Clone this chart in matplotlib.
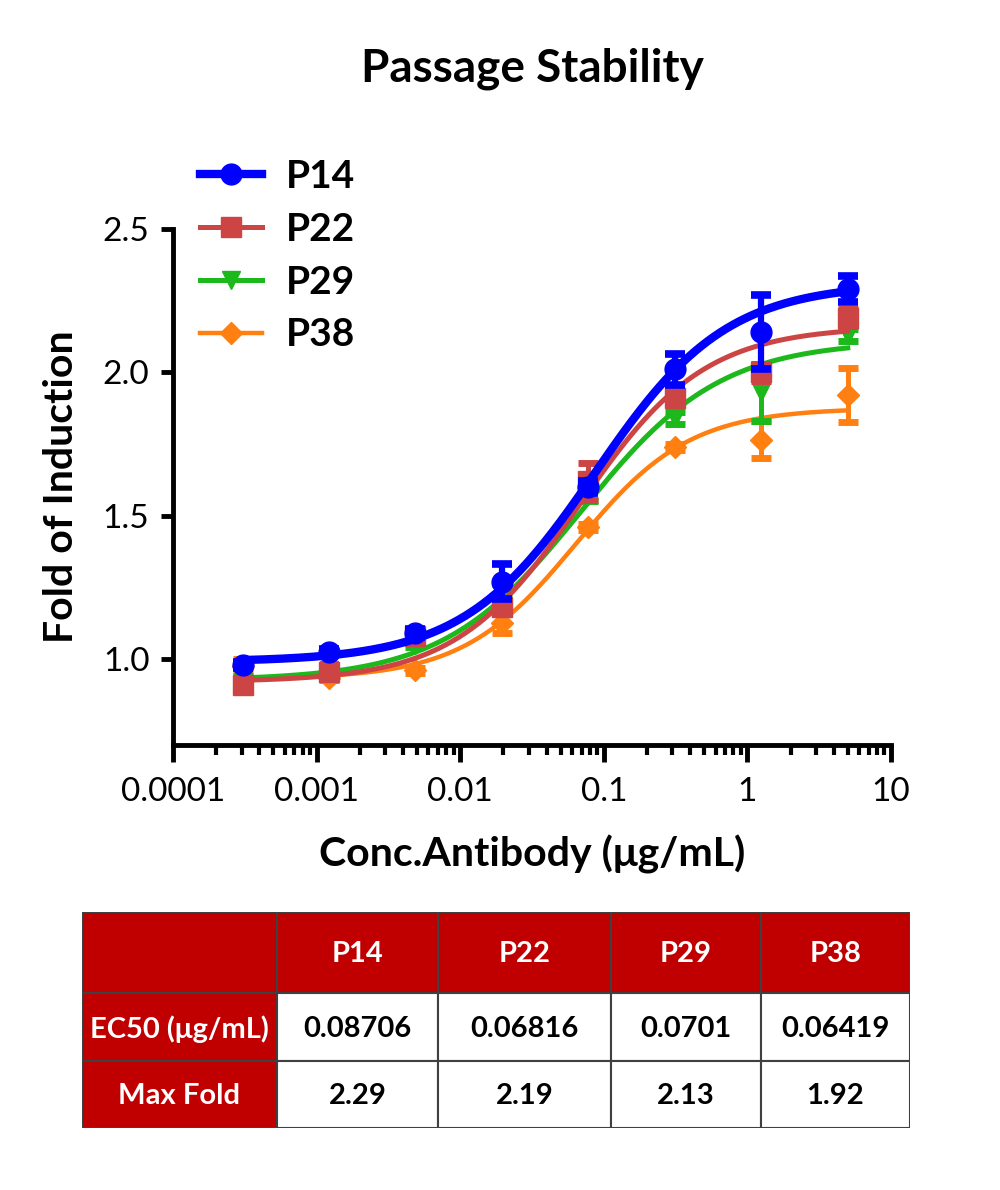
import numpy as np
import matplotlib
matplotlib.use('Agg')
import matplotlib.pyplot as plt
from matplotlib.lines import Line2D
from matplotlib.patches import Rectangle

plt.rcParams['font.family'] = ['Lato', 'DejaVu Sans']

# antibody concentration (ug/mL), 4-fold dilution
conc = [0.000305, 0.00122, 0.00488, 0.0195, 0.078125, 0.3125, 1.25, 5.0]

labels = ['P14', 'P22', 'P29', 'P38']

p14_mean = [0.98, 1.025, 1.09, 1.27, 1.60, 2.01, 2.14, 2.29]
p14_err = [0.01, 0.01, 0.015, 0.06, 0.02, 0.055, 0.13, 0.045]
p22_mean = [0.91, 0.955, 1.08, 1.18, 1.62, 1.91, 2.00, 2.19]
p22_err = [0.01, 0.01, 0.01, 0.02, 0.065, 0.02, 0.03, 0.03]
p29_mean = [0.93, 0.96, 1.05, 1.24, 1.57, 1.84, 1.93, 2.13]
p29_err = [0.01, 0.01, 0.01, 0.02, 0.02, 0.02, 0.10, 0.02]
p38_mean = [0.975, 0.935, 0.96, 1.125, 1.46, 1.74, 1.765, 1.92]
p38_err = [0.025, 0.01, 0.01, 0.035, 0.01, 0.01, 0.065, 0.095]

# 4PL fit parameters
fit_bottom = [0.99, 0.92, 0.925, 0.93]
fit_top = [2.31, 2.16, 2.11, 1.875]
fit_ec50 = [0.08706, 0.06816, 0.0701, 0.06419]
fit_hill = [0.95, 1.0, 0.9, 1.1]

# table
tab_cols = ['', 'P14', 'P22', 'P29', 'P38']
tab_rows = ['EC50 (μg/mL)', 'Max Fold']
ec50_text = ['0.08706', '0.06816', '0.0701', '0.06419']
maxfold_text = ['2.29', '2.19', '2.13', '1.92']

means = [p14_mean, p22_mean, p29_mean, p38_mean]
errs = [p14_err, p22_err, p29_err, p38_err]
colors = ['#0000FF', '#CC4444', '#1CB81C', '#FF8010']
markers = ['o', 's', 'v', 'D']
msizes = [15, 14, 13, 11]
lws = [6, 3.6, 3.6, 3.2]

fig = plt.figure(figsize=(10, 11.9), dpi=100)
ax = fig.add_axes([0.173, 0.374, 0.718, 0.4336])

xfit = np.logspace(np.log10(conc[0]), np.log10(conc[-1]), 300)
# draw orange first, blue last (blue on top)
for i in [3, 2, 1, 0]:
    yfit = fit_bottom[i] + (fit_top[i] - fit_bottom[i]) / (1 + (fit_ec50[i] / xfit) ** fit_hill[i])
    ax.plot(xfit, yfit, color=colors[i], lw=lws[i], zorder=5 - i)
    ax.errorbar(conc, means[i], yerr=errs[i], fmt=markers[i], color=colors[i],
                ms=msizes[i], elinewidth=4.5 if i == 0 else 3.6, capsize=7,
                capthick=5.5 if i == 0 else 5, zorder=5 - i)

ax.set_xscale('log')
ax.set_xlim(1e-4, 10)
ax.set_ylim(0.7, 2.5)
ax.spines['top'].set_visible(False)
ax.spines['right'].set_visible(False)
ax.spines['left'].set_linewidth(3.5)
ax.spines['bottom'].set_linewidth(3.5)

ax.set_xticks([1e-4, 1e-3, 1e-2, 1e-1, 1, 10])
ax.set_xticklabels(['0.0001', '0.001', '0.01', '0.1', '1', '10'])
ax.set_yticks([1.0, 1.5, 2.0, 2.5])
ax.set_yticklabels(['1.0', '1.5', '2.0', '2.5'])
ax.tick_params(axis='x', which='major', length=12, width=3.5, pad=11, labelsize=24)
ax.tick_params(axis='x', which='minor', length=7, width=3)
ax.tick_params(axis='y', which='major', length=9, width=3.5, pad=8, labelsize=24)

ax.set_xlabel('Conc.Antibody (μg/mL)', fontsize=29.5, fontweight='bold', labelpad=20)
ax.set_ylabel('Fold of Induction', fontsize=29.5, fontweight='bold', labelpad=16)
fig.text(0.532, 0.942, 'Passage Stability', ha='center', va='center',
         fontsize=33, fontweight='bold')

handles = [Line2D([], [], color=colors[i], lw=lws[i], marker=markers[i], ms=msizes[i])
           for i in range(4)]
leg = fig.legend(handles, labels, loc='upper left', bbox_to_anchor=(0.165, 0.896),
                 frameon=False, prop={'size': 28, 'weight': 'bold'},
                 handlelength=1.6, handletextpad=0.6, labelspacing=0.46)

# table below the plot
tax = fig.add_axes([0.082, 1 - 1128 / 1190, 0.828, 216 / 1190])
tax.set_xlim(0, 828)
tax.set_ylim(216, 0)
tax.axis('off')
col_edges = [0, 195, 356, 529, 679, 828]
row_edges = [0, 81, 149, 216]
red = '#C00000'
cells = [tab_cols, [tab_rows[0]] + ec50_text, [tab_rows[1]] + maxfold_text]
for r in range(3):
    for c in range(5):
        x0, x1 = col_edges[c], col_edges[c + 1]
        y0, y1 = row_edges[r], row_edges[r + 1]
        is_head = (r == 0 or c == 0)
        tax.add_patch(Rectangle((x0, y0), x1 - x0, y1 - y0,
                                facecolor=red if is_head else 'white',
                                edgecolor='#404040', lw=1.5))
        tax.text((x0 + x1) / 2, (y0 + y1) / 2 + 2, cells[r][c], ha='center', va='center',
                 fontsize=21, fontweight='bold', color='white' if is_head else 'black')

fig.savefig('out.png', dpi=100)
